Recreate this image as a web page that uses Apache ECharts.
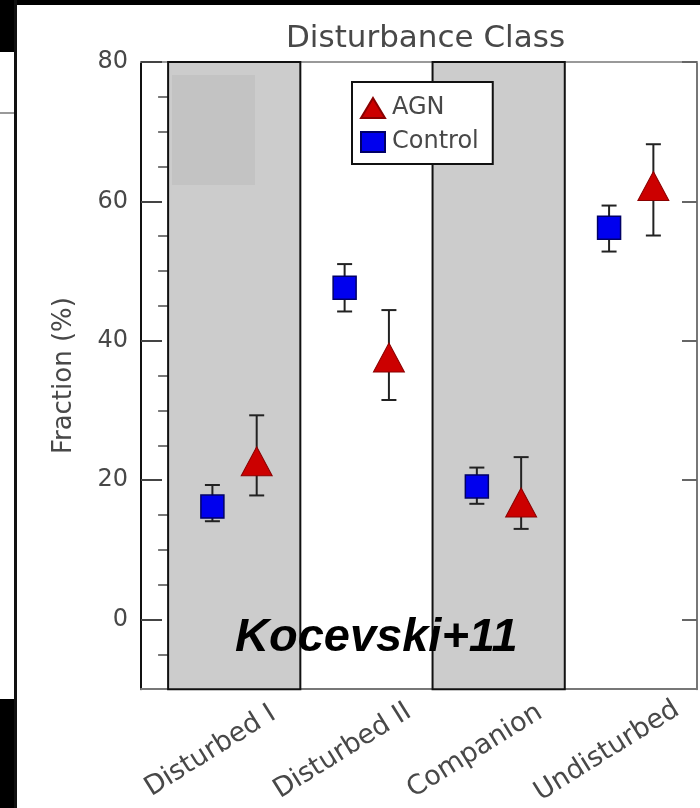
<!DOCTYPE html>
<html>
<head>
<meta charset="utf-8">
<script src="https://cdn.jsdelivr.net/npm/echarts@6/dist/echarts.min.js"></script>
<style>
  html, body { margin: 0; padding: 0; background: #ffffff; }
  #chart { width: 700px; height: 808px; }
</style>
</head>
<body>
<div id="chart"></div>
<script>
// ---- data ----
const categories = ['Disturbed I', 'Disturbed II', 'Companion', 'Undisturbed'];
const shadedCategories = [0, 2];
const agnValues = [22.7, 37.6, 16.8, 62.2];
const agnLow = [17.8, 31.5, 13.0, 55.1];
const agnHigh = [29.3, 44.4, 23.3, 68.2];
const controlValues = [16.2, 47.6, 19.1, 56.2];
const controlLow = [14.1, 44.2, 16.6, 52.8];
const controlHigh = [19.3, 51.0, 21.8, 59.4];
const yMajorTicks = [0, 20, 40, 60, 80];
const yMinorTicks = [-5, 5, 10, 15, 25, 30, 35, 45, 50, 55, 65, 70, 75];
const yMin = -10, yMax = 80;

// ---- style constants ----
const CONTROL_OFFSET = 0.335;
const AGN_OFFSET = 0.67;
const TXT = '#484848';
const FONT = 'DejaVu Sans';

const controlPts = controlValues.map((v, i) => [i + CONTROL_OFFSET, v]);
const agnPts = agnValues.map((v, i) => [i + AGN_OFFSET, v]);
const errData = [];
controlValues.forEach((v, i) => errData.push([i + CONTROL_OFFSET, controlLow[i], controlHigh[i]]));
agnValues.forEach((v, i) => errData.push([i + AGN_OFFSET, agnLow[i], agnHigh[i]]));

const bands = shadedCategories.map(c => [
  { xAxis: c, yAxis: yMin },
  { xAxis: c + 1, yAxis: yMax }
]);

const chart = echarts.init(document.getElementById('chart'), null, { renderer: 'canvas' });

const option = {
  backgroundColor: '#ffffff',
  animation: false,
  title: [
    {
      text: 'Disturbance Class',
      left: 281, top: 18,
      textStyle: { fontFamily: FONT, fontSize: 31, fontWeight: 'normal', color: TXT }
    },
    {
      text: 'Kocevski+11',
      left: 230, top: 610,
      z: 20,
      textStyle: { fontFamily: 'Liberation Sans', fontSize: 47, fontWeight: 'bold', fontStyle: 'italic', color: '#000' }
    }
  ],
  legend: {
    orient: 'vertical',
    left: 352, top: 82,
    data: ['AGN', 'Control'],
    backgroundColor: '#ffffff',
    borderColor: '#111',
    borderWidth: 2,
    borderRadius: 0,
    padding: [14, 14, 10, 8],
    itemWidth: 24, itemHeight: 20,
    itemGap: 10,
    textStyle: { fontFamily: FONT, fontSize: 24, color: TXT, padding: [0, 0, 0, 2] },
    z: 10
  },
  grid: { left: 141, right: 3, top: 62, bottom: 118, containLabel: false },
  xAxis: [
    {
      type: 'value', position: 'bottom', min: -0.205, max: 4,
      axisLine: { show: true, onZero: false, lineStyle: { color: '#777', width: 2 } },
      axisTick: { show: false },
      splitLine: { show: false },
      axisLabel: {
        show: true,
        customValues: categories.map((c, i) => i + 0.32),
        formatter: v => categories[Math.floor(v + 1e-6)],
        rotate: 32,
        align: 'center',
        verticalAlign: 'middle',
        margin: 62,
        fontFamily: FONT, fontSize: 27, color: TXT
      }
    },
    {
      type: 'value', position: 'top', min: -0.205, max: 4,
      axisLine: { show: true, onZero: false, lineStyle: { color: '#999', width: 2 } },
      axisTick: { show: false }, axisLabel: { show: false }, splitLine: { show: false }
    }
  ],
  yAxis: [
    {
      type: 'value', position: 'left', min: yMin, max: yMax,
      axisLine: { show: true, onZero: false, lineStyle: { color: '#111', width: 2 } },
      axisTick: { show: true, inside: true, length: 21, customValues: yMajorTicks, lineStyle: { color: '#444', width: 2 } },
      axisLabel: { show: true, customValues: yMajorTicks, margin: 13, fontFamily: FONT, fontSize: 24, color: TXT },
      splitLine: { show: false },
      name: 'Fraction (%)', nameLocation: 'middle', nameGap: 64, nameRotate: 90,
      nameTextStyle: { fontFamily: FONT, fontSize: 26, color: TXT }
    },
    {
      type: 'value', position: 'left', min: yMin, max: yMax,
      axisLine: { show: false },
      axisTick: { show: true, inside: true, length: 11, customValues: yMinorTicks, lineStyle: { color: '#555', width: 2 } },
      axisLabel: { show: false }, splitLine: { show: false }
    },
    {
      type: 'value', position: 'right', min: yMin, max: yMax,
      axisLine: { show: true, onZero: false, lineStyle: { color: '#777', width: 2 } },
      axisTick: { show: true, inside: true, length: 15, customValues: yMajorTicks, lineStyle: { color: '#666', width: 2 } },
      axisLabel: { show: false }, splitLine: { show: false }
    },
    {
      type: 'value', position: 'right', min: yMin, max: yMax,
      axisLine: { show: false },
      axisTick: { show: true, inside: true, length: 10, customValues: yMinorTicks, lineStyle: { color: '#777', width: 2 } },
      axisLabel: { show: false }, splitLine: { show: false }
    }
  ],
  series: [
    {
      name: 'errors',
      type: 'custom',
      xAxisIndex: 0, yAxisIndex: 0,
      z: 2,
      data: errData,
      encode: { x: 0, y: [1, 2] },
      renderItem: function (params, api) {
        const x = api.value(0);
        const lo = api.coord([x, api.value(1)]);
        const hi = api.coord([x, api.value(2)]);
        const hw = 7.5;
        const style = { stroke: '#222', lineWidth: 2 };
        return {
          type: 'group',
          children: [
            { type: 'line', shape: { x1: lo[0], y1: lo[1], x2: hi[0], y2: hi[1] }, style: style },
            { type: 'line', shape: { x1: lo[0] - hw, y1: lo[1], x2: lo[0] + hw, y2: lo[1] }, style: style },
            { type: 'line', shape: { x1: hi[0] - hw, y1: hi[1], x2: hi[0] + hw, y2: hi[1] }, style: style }
          ]
        };
      },
      markArea: {
        silent: true,
        itemStyle: { color: '#cccccc', borderColor: '#111', borderWidth: 2 },
        data: bands
      }
    },
    {
      name: 'AGN',
      type: 'scatter',
      xAxisIndex: 0, yAxisIndex: 0,
      z: 5,
      symbol: 'triangle',
      symbolSize: [31, 29],
      itemStyle: { color: '#cc0000', borderColor: '#8a0000', borderWidth: 1, opacity: 1 },
      data: agnPts
    },
    {
      name: 'Control',
      type: 'scatter',
      xAxisIndex: 0, yAxisIndex: 0,
      z: 5,
      symbol: 'rect',
      symbolSize: [23, 23],
      itemStyle: { color: '#0000ee', borderColor: '#000066', borderWidth: 1.5, opacity: 1 },
      data: controlPts
    }
  ],
  graphic: [
    { type: 'rect', z: 4, silent: true, shape: { x: 172, y: 75, width: 83, height: 110 }, style: { fill: '#c3c3c3' } },
    { type: 'rect', z: 100, silent: true, shape: { x: 0, y: 0, width: 700, height: 5 }, style: { fill: '#000' } },
    { type: 'rect', z: 100, silent: true, shape: { x: 0, y: 0, width: 15, height: 52 }, style: { fill: '#000' } },
    { type: 'rect', z: 100, silent: true, shape: { x: 0, y: 699, width: 15, height: 109 }, style: { fill: '#000' } },
    { type: 'rect', z: 100, silent: true, shape: { x: 14, y: 0, width: 3, height: 808 }, style: { fill: '#111' } },
    { type: 'rect', z: 100, silent: true, shape: { x: 0, y: 112, width: 14, height: 2 }, style: { fill: '#999' } }
  ]
};

chart.setOption(option);
</script>
</body>
</html>
